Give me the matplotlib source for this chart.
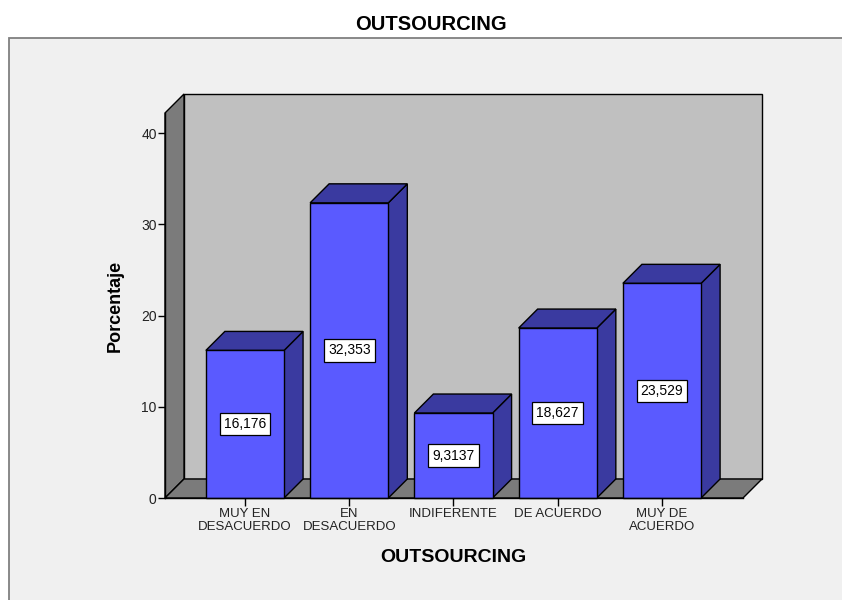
import matplotlib
matplotlib.use("Agg")
import matplotlib.pyplot as plt
from matplotlib.patches import Polygon, Rectangle

plt.rcParams["font.family"] = ["Liberation Sans", "DejaVu Sans"]

categories = ["MUY EN\nDESACUERDO", "EN\nDESACUERDO", "INDIFERENTE", "DE ACUERDO", "MUY DE\nACUERDO"]
percentages = [16.176, 32.353, 9.3137, 18.627, 23.529]
yticks = [0, 10, 20, 30, 40]
title = "OUTSOURCING"
xlabel = "OUTSOURCING"
ylabel = "Porcentaje"

W, H = 842, 600
fig = plt.figure(figsize=(W / 100, H / 100), dpi=100, facecolor="white")

# outer light panel
fig.patches.append(Rectangle((9 / W, -0.05), 1.1, 1 - 38 / H + 0.05, transform=fig.transFigure,
                             facecolor="#f0f0f0", edgecolor="#808080", lw=1.3, zorder=-5))

# front plane of the plot area (pixels measured from reference)
left, right, bottom, top = 165, 743, 498, 113
ax = fig.add_axes([left / W, 1 - bottom / H, (right - left) / W, (bottom - top) / H])
ax.set_facecolor("none")
ax.set_zorder(1)

xmin, xmax = -0.767, 4.777
ymin, ymax = 0, 42.2
ax.set_xlim(xmin, xmax)
ax.set_ylim(ymin, ymax)

# depth offset in pixels -> data units
depth_px = 19
ddx = depth_px * (xmax - xmin) / (right - left)
ddy = depth_px * (ymax - ymin) / (bottom - top)

wall_kw = dict(edgecolor="black", lw=1, clip_on=False, joinstyle="miter")
# back wall
ax.add_patch(Polygon([(xmin + ddx, ddy), (xmax + ddx, ddy), (xmax + ddx, ymax + ddy), (xmin + ddx, ymax + ddy)],
                     facecolor="#c0c0c0", zorder=1, **wall_kw))
# left wall
ax.add_patch(Polygon([(xmin, 0), (xmin + ddx, ddy), (xmin + ddx, ymax + ddy), (xmin, ymax)],
                     facecolor="#7b7b7b", zorder=1, **wall_kw))
# floor
ax.add_patch(Polygon([(xmin, 0), (xmax, 0), (xmax + ddx, ddy), (xmin + ddx, ddy)],
                     facecolor="#7b7b7b", zorder=1, **wall_kw))

front_col = "#5a5aff"
shade_col = "#3a3aa0"
bw = 0.75
for i, v in enumerate(percentages):
    x0, x1 = i - bw / 2, i + bw / 2
    ax.add_patch(Polygon([(x1, 0), (x1 + ddx, ddy), (x1 + ddx, v + ddy), (x1, v)],
                         facecolor=shade_col, zorder=3, **wall_kw))
    ax.add_patch(Polygon([(x0, v), (x1, v), (x1 + ddx, v + ddy), (x0 + ddx, v + ddy)],
                         facecolor=shade_col, zorder=3, **wall_kw))
    ax.add_patch(Rectangle((x0, 0), bw, v, facecolor=front_col, zorder=4, **wall_kw))
    label = f"{v:.5g}".replace(".", ",")
    ax.text(i, v / 2, label, ha="center", va="center", fontsize=10, zorder=6,
            bbox=dict(boxstyle="square,pad=0.3", facecolor="white", edgecolor="black", lw=0.9))

for s in ["top", "right"]:
    ax.spines[s].set_visible(False)
for s in ["left", "bottom"]:
    ax.spines[s].set_linewidth(1)
    ax.spines[s].set_zorder(5)

ax.set_yticks(yticks)
ax.set_xticks(range(len(categories)))
ax.set_xticklabels(categories, fontsize=9.5, linespacing=1.05, color="#222222")
ax.tick_params(axis="y", length=5, width=1, pad=1, labelsize=10, labelcolor="#222222")
ax.tick_params(axis="x", length=5.5, width=1, pad=2)

fig.text(431 / W, 1 - 25 / H, title, ha="center", va="center", fontsize=14.5, fontweight="bold")
fig.text(453.5 / W, 1 - 557 / H, xlabel, ha="center", va="center", fontsize=14, fontweight="bold")
fig.text(115.5 / W, 1 - 306 / H, ylabel, ha="center", va="center", rotation=90, fontsize=13, fontweight="bold")

fig.savefig("out.png", dpi=100)
